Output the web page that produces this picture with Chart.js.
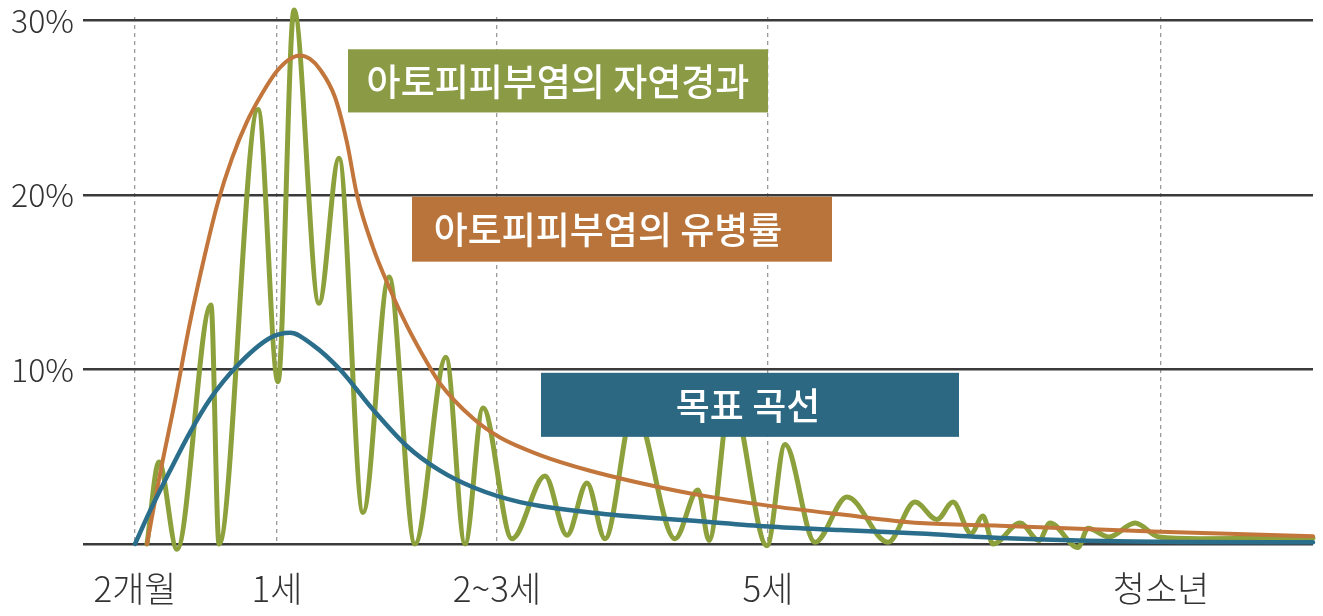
<!DOCTYPE html>
<html lang="ko">
<head>
<meta charset="utf-8">
<script src="https://cdn.jsdelivr.net/npm/chart.js@4.4.1/dist/chart.umd.min.js"></script>
<style>
  html, body { margin: 0; padding: 0; background: #ffffff; }
  #wrap { width: 1323px; height: 616px; }
</style>
</head>
<body>
<div id="wrap"><canvas id="c" width="1323" height="616"></canvas></div>
<script>
// ---- data (x: position along the age axis, 0..123 ; y: percent) ----
const xTickPositions = [5.2, 19.4, 41.4, 68.5, 107.8];
const xTickLabels = ['2개월', '1세', '2~3세', '5세', '청소년'];
const yTickValues = [0, 10, 20, 30];

const naturalX = [6.4, 7.6, 9.4, 12.8, 13.6, 17.5, 19.5, 21.1, 23.6, 25.6, 28.0, 30.6, 33.2, 36.3, 38.2, 40.0, 42.9, 46.2, 48.4, 50.4, 52.2, 55.1, 59.2, 61.5, 62.6, 64.8, 68.4, 70.2, 73.2, 76.4, 80.5, 83.2, 85.4, 87.0, 88.8, 90.0, 91.0, 93.7, 95.6, 96.7, 99.5, 100.5, 102.6, 105.2, 107.6, 111.7, 123];
const naturalY = [0, 4.7, -0.3, 13.7, 0, 24.9, 9.3, 30.6, 13.8, 22.1, 1.8, 15.3, 0, 10.7, 0, 7.8, 0.3, 3.9, 0.5, 3.5, 0.3, 7.8, 0.3, 3.1, 0.2, 8.5, -0.1, 5.7, 0.1, 2.7, 0.1, 2.4, 1.4, 2.4, 0.6, 1.6, 0.0, 1.2, 0.2, 1.2, -0.2, 0.9, 0.4, 1.2, 0.4, 0.3, 0.35];

const prevalenceX = [6.4, 7.7, 9.2, 10.7, 12.2, 13.5, 14.9, 16.4, 17.9, 19.4, 20.7, 21.7, 22.7, 23.7, 25.2, 26.4, 27.4, 29.0, 30.7, 32.4, 34.4, 35.7, 39.0, 41.7, 45.7, 50.7, 55.7, 61.7, 68.5, 75.7, 83.7, 91.7, 107.7, 123];
const prevalenceY = [0, 4.0, 8.2, 12.7, 16.6, 19.6, 22.1, 24.2, 25.8, 27.1, 27.8, 28.0, 27.8, 27.2, 25.6, 23.0, 20.0, 17.0, 14.6, 12.5, 10.4, 9.2, 7.2, 6.1, 5.1, 4.2, 3.5, 2.8, 2.2, 1.7, 1.2, 1.05, 0.7, 0.45];

const targetX = [5.2, 6.7, 8.7, 10.7, 12.7, 15.4, 18.7, 20.7, 23.0, 25.7, 29.0, 32.4, 35.7, 39.0, 43.7, 51.7, 61.7, 68.5, 75.7, 83.7, 91.7, 109.7, 123];
const targetY = [0, 1.9, 4.2, 6.4, 8.3, 10.2, 11.8, 12.1, 11.4, 10.0, 7.7, 5.6, 4.2, 3.25, 2.4, 1.75, 1.3, 1.0, 0.8, 0.6, 0.35, 0.12, 0.1];

const seriesNames = ['아토피피부염의 자연경과', '아토피피부염의 유병률', '목표 곡선'];

const toPoints = (xs, ys) => xs.map((x, i) => ({ x: x, y: ys[i] }));

// ---- label boxes (in data units) ----
const labelBoxes = [
  { text: seriesNames[0], x0: 26.5, x1: 68.5, y0: 28.35, y1: 24.73, tx: 47.5, ty: 26.55, color: '#8b9a45' },
  { text: seriesNames[1], x0: 32.9, x1: 74.9, y0: 19.9, y1: 16.18, tx: 52.5, ty: 18.05, color: '#b8743a' },
  { text: seriesNames[2], x0: 45.8, x1: 87.6, y0: 9.81, y1: 6.14, tx: 66.5, ty: 7.98, color: '#2d6883' }
];

const boxPlugin = {
  id: 'labelBoxes',
  afterDatasetsDraw(chart) {
    const ctx = chart.ctx;
    const xs = chart.scales.x, ys = chart.scales.y;
    ctx.save();
    labelBoxes.forEach(b => {
      const l = xs.getPixelForValue(b.x0), r = xs.getPixelForValue(b.x1);
      const t = ys.getPixelForValue(b.y0), bt = ys.getPixelForValue(b.y1);
      ctx.fillStyle = b.color;
      ctx.fillRect(l, t, r - l, bt - t);
      ctx.fillStyle = '#ffffff';
      ctx.font = '500 37px "Noto Sans CJK KR", "Noto Sans", sans-serif';
      ctx.textAlign = 'center';
      ctx.textBaseline = 'middle';
      ctx.fillText(b.text, xs.getPixelForValue(b.tx), ys.getPixelForValue(b.ty) + 1);
    });
    ctx.restore();
  }
};

const lineCommon = {
  fill: false,
  pointRadius: 0,
  pointHoverRadius: 0,
  cubicInterpolationMode: 'monotone',
  clip: false,
  borderCapStyle: 'round',
  borderJoinStyle: 'round'
};

new Chart(document.getElementById('c'), {
  type: 'line',
  data: {
    datasets: [
      Object.assign({ label: seriesNames[2], data: toPoints(targetX, targetY), borderColor: '#2b6e8c', borderWidth: 4.5, order: 1 }, lineCommon),
      Object.assign({ label: seriesNames[1], data: toPoints(prevalenceX, prevalenceY), borderColor: '#c2763b', borderWidth: 4, order: 2 }, lineCommon),
      Object.assign({ label: seriesNames[0], data: toPoints(naturalX, naturalY), borderColor: '#8ca03c', borderWidth: 5, order: 3 }, lineCommon)
    ]
  },
  options: {
    responsive: false,
    animation: false,
    devicePixelRatio: 1,
    layout: { padding: { top: 17, right: 10, left: 0, bottom: 0 } },
    plugins: { legend: { display: false }, tooltip: { enabled: false } },
    scales: {
      x: {
        type: 'linear',
        min: 0,
        max: 123,
        afterBuildTicks: s => { s.ticks = xTickPositions.map(v => ({ value: v })); },
        afterFit: s => { s.height = 72; s.paddingLeft = 0; s.paddingRight = 0; },
        border: { display: false, dash: [4, 4] },
        grid: { color: '#9a9a9a', lineWidth: 1.3, drawTicks: false },
        ticks: {
          autoSkip: false,
          maxRotation: 0,
          padding: 27,
          color: '#333333',
          font: { family: '"Noto Sans CJK KR", "Noto Sans", sans-serif', size: 35, weight: '300', lineHeight: 1 },
          callback: v => { const i = xTickPositions.indexOf(v); return i >= 0 ? xTickLabels[i] : ''; }
        }
      },
      y: {
        type: 'linear',
        min: 0,
        max: 30.2,
        afterBuildTicks: s => { s.ticks = yTickValues.map(v => ({ value: v })); },
        afterFit: s => { s.width = 83; s.paddingTop = 0; s.paddingBottom = 0; },
        border: { display: false },
        grid: { color: '#3a3a3a', lineWidth: 2.5, drawTicks: false },
        ticks: {
          padding: 9,
          color: '#333333',
          font: { family: '"Noto Sans CJK KR", "Noto Sans", sans-serif', size: 32, weight: '300', lineHeight: 1 },
          callback: v => v === 0 ? '' : v + '%'
        }
      }
    }
  },
  plugins: [boxPlugin]
});
</script>
</body>
</html>
